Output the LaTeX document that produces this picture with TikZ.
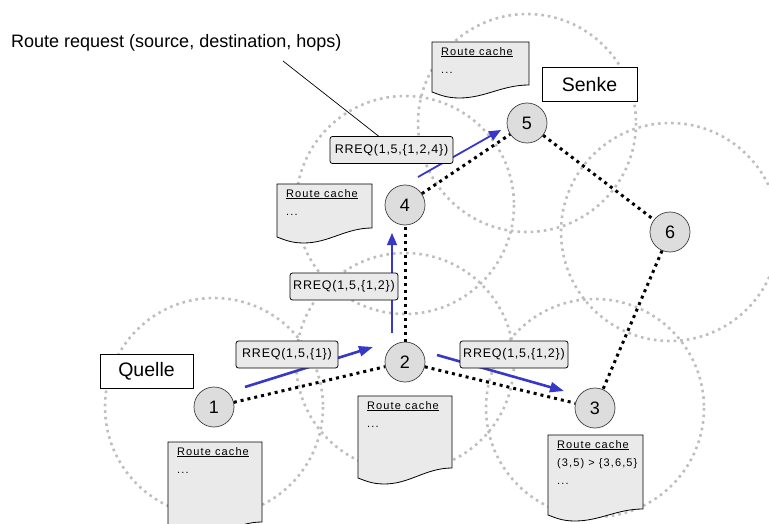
\documentclass[tikz,border=0pt]{standalone}
\usepackage{fontspec}
\setmainfont{Liberation Sans}
\newfontfamily\rreqfont[LetterSpace=6]{Liberation Sans}
\newfontfamily\cachefont[LetterSpace=10]{Liberation Sans}
\usetikzlibrary{arrows.meta}

\definecolor{rangegray}{RGB}{190,190,190}
\definecolor{nodegray}{RGB}{221,221,221}
\definecolor{boxgray}{RGB}{234,234,234}
\definecolor{msgblue}{RGB}{55,55,200}

\tikzset{
  pics/cachedoc/.style n args={4}{code={
    % #1 width, #2 depth at left, #3 depth at right, #4 contents
    \path[docframe] (0,0) -- (#1,0) -- (#1,#3)
      .. controls ({0.72*#1},#3) and ({0.55*#1},{#2+6}) .. ({0.28*#1},{#2+6})
      .. controls ({0.14*#1},{#2+6}) and ({0.06*#1},{#2+2}) .. (0,#2) -- cycle;
    \node[doctext] (-text) at (9,5) {#4};
  }},
}

\begin{document}
\begin{tikzpicture}[x=1pt,y=-1pt,
  radiorange/.style={draw=rangegray, line width=2.6pt, dash pattern=on 2.6pt off 4pt},
  hop/.style={draw=black, line width=3pt, dash pattern=on 3pt off 4pt},
  host/.style={circle, draw=black!75, line width=0.7pt, fill=nodegray,
    minimum size=40pt, inner sep=0pt, font=\fontsize{18}{18}\selectfont},
  rreq/.style={draw=black, line width=0.8pt, fill=boxgray, rounded corners=2.5pt,
    minimum height=27pt, inner sep=2pt, font=\rreqfont\fontsize{12.5}{14}\selectfont},
  role/.style={draw=black, line width=0.8pt, fill=white, minimum height=34pt,
    font=\fontsize{19.5}{20}\selectfont},
  msg/.style={draw=msgblue, line width=2.6pt, -{Triangle[length=14pt,width=10pt]}, fill=msgblue},
  msgthin/.style={draw=msgblue, line width=1.2pt, -{Triangle[length=12pt,width=10pt]}, fill=msgblue},
  docframe/.style={draw=black, line width=0.8pt, fill=boxgray},
  doctext/.style={anchor=north west, align=left, inner sep=0pt,
    font=\cachefont\fontsize{11}{18}\selectfont},
]
\useasboundingbox (0,0) rectangle (769,524);
\clip (0,0) rectangle (769,524);

% hosts
\coordinate (p1) at (214,407);
\coordinate (p2) at (405,362);
\coordinate (p3) at (595,408);
\coordinate (p4) at (405,205);
\coordinate (p5) at (527,123);
\coordinate (p6) at (670,232);

% radio ranges
\foreach \p in {p1,p2,p3,p4,p5,p6}
  \draw[radiorange] (\p) circle[radius=109];

% route caches
\pic (d1) at (168,442) {cachedoc={94}{90}{80}{\underline{Route cache}\\...}};
\pic (d2) at (358,396) {cachedoc={94}{82}{72}{\underline{Route cache}\\...}};
\pic (d3) at (548,435) {cachedoc={95}{80}{74}{\underline{Route cache}\\(3,5) > \{3,6,5\}\\...}};
\pic (d4) at (277,184) {cachedoc={95}{53}{44}{\underline{Route cache}\\...}};
\pic (d5) at (432,42)  {cachedoc={97}{50}{43}{\underline{Route cache}\\...}};

\node[host] (n1) at (p1) {1};
\node[host] (n2) at (p2) {2};
\node[host] (n3) at (p3) {3};
\node[host] (n4) at (p4) {4};
\node[host] (n5) at (p5) {5};
\node[host] (n6) at (p6) {6};

% links
\draw[hop] (n1) -- (n2);
\draw[hop] (n2) -- (n3);
\draw[hop] (n2) -- (n4);
\draw[hop] (n4) -- (n5);
\draw[hop] (n5) -- (n6);
\draw[hop] (n6) -- (n3);

% forwarded requests
\coordinate (a12s) at (245,387);
\coordinate (a12e) at (373,347);
\coordinate (a24s) at (392,333);
\coordinate (a24e) at (392,233);
\coordinate (a23s) at (437,355);
\coordinate (a23e) at (564,391);
\coordinate (a45s) at (418,177);
\coordinate (a45e) at (501,130);
\draw[msg] (a12s) -- (a12e);
\draw[msg] (a23s) -- (a23e);
\draw[msgthin] (a24s) -- (a24e);
\draw[msgthin, line width=1.8pt] (a45s) -- (a45e);

\node[rreq, minimum width=102pt] (r1) at (287,354.5) {RREQ(1,5,\{1\})};
\node[rreq, minimum width=108pt] (r2) at (344,286.5) {RREQ(1,5,\{1,2\})};
\node[rreq, minimum width=108pt] (r3) at (514,354.5) {RREQ(1,5,\{1,2\})};
\node[rreq, minimum width=123pt] (r4) at (391.5,150) {RREQ(1,5,\{1,2,4\})};

% roles
\node[role, minimum width=93pt] (src) at (146.5,371) {Quelle};
\node[role, minimum width=95pt] (dst) at (589.5,84.5) {Senke};

% caption
\node[anchor=base west, inner sep=0pt, font=\fontsize{18}{20}\selectfont] (cap) at (11,48)
  {Route request (source, destination, hops)};
\coordinate (captail) at (283,61);
\draw[line width=0.7pt] (captail) -- (r4.133);
\end{tikzpicture}
\end{document}
